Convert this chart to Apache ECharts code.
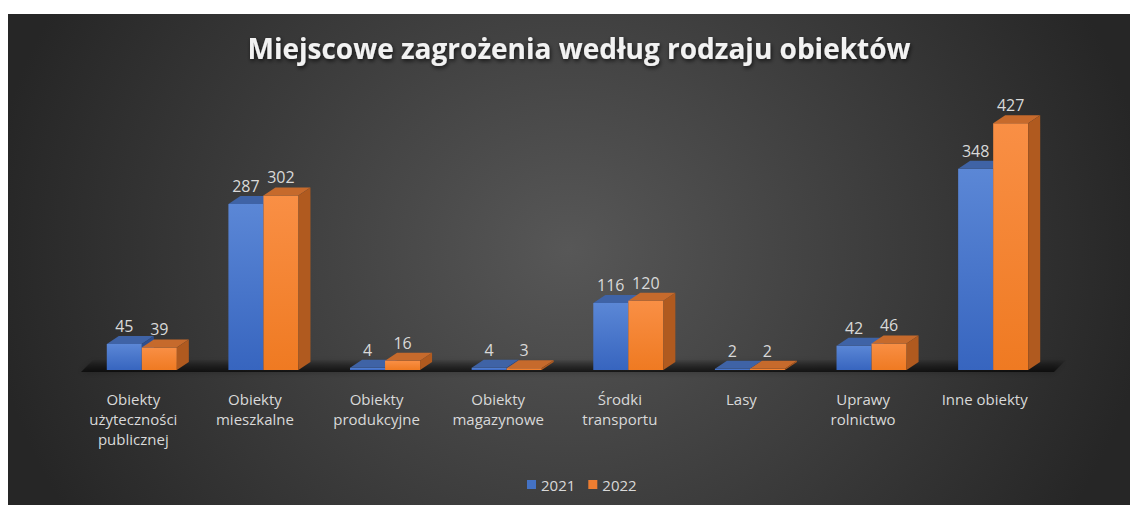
<!DOCTYPE html>
<html>
<head>
<meta charset="utf-8">
<script src="https://cdn.jsdelivr.net/npm/echarts@6/dist/echarts.min.js"></script>
<style>
  html, body { margin: 0; padding: 0; background: #ffffff; }
  #chart {
    position: absolute; left: 8px; top: 14px; width: 1122px; height: 491px;
    background: radial-gradient(ellipse 52% 105% at 50% 48%, #575757 0%, #3c3c3c 55%, #262626 100%);
  }
</style>
</head>
<body>
<div id="chart"></div>
<script>
const categories = [
  'Obiekty\nużyteczności\npublicznej',
  'Obiekty\nmieszkalne',
  'Obiekty\nprodukcyjne',
  'Obiekty\nmagazynowe',
  'Środki\ntransportu',
  'Lasy',
  'Uprawy\nrolnictwo',
  'Inne obiekty'
];
const seriesNames = ['2021', '2022'];
const values2021 = [45, 287, 4, 4, 116, 2, 42, 348];
const values2022 = [39, 302, 16, 3, 120, 2, 46, 427];

const FONT = '"Open Sans", sans-serif';
const DX = 12, DY = 8;

const palette = [
  { legend: '#4472c4', frontTop: '#5b87d6', frontBot: '#3765bf', top: '#3f63a6', side: '#2f4f8f' },
  { legend: '#ed7d31', frontTop: '#f98f45', frontBot: '#ef7a22', top: '#c66a2c', side: '#b05a1f' }
];

function makeRender(k) {
  const c = palette[k];
  return function (params, api) {
    const idx = api.value(0);
    const val = api.value(1);
    const top = api.coord([idx, val]);
    const base = api.coord([idx, 0]);
    const band = api.size([1, 0])[0];
    const w = band * 0.288;
    const x0 = top[0] + (k === 0 ? -w : 0);
    const x1 = x0 + w;
    const yT = top[1], yB = base[1];
    return {
      type: 'group',
      children: [
        { type: 'rect', shape: { x: x0, y: yT, width: w, height: yB - yT },
          style: { fill: new echarts.graphic.LinearGradient(0, 0, 0, 1, [
            { offset: 0, color: c.frontTop }, { offset: 1, color: c.frontBot }]) } },
        { type: 'polygon', shape: { points: [[x0, yT], [x1, yT], [x1 + DX, yT - DY], [x0 + DX, yT - DY]] },
          style: { fill: c.top } },
        { type: 'polygon', shape: { points: [[x1, yT], [x1 + DX, yT - DY], [x1 + DX, yB - DY], [x1, yB]] },
          style: { fill: c.side } },
        { type: 'text', z2: 50, style: { text: String(val), x: (x0 + x1) / 2, y: yT - DY - 2,
          align: 'center', verticalAlign: 'bottom', fill: '#d9d9d9', fontSize: 16, fontFamily: FONT } }
      ]
    };
  };
}

function renderFloor(params, api) {
  const cs = params.coordSys;
  const yB = cs.y + cs.height;
  const xL = cs.x, xR = cs.x + cs.width;
  return {
    type: 'group',
    children: [
      { type: 'polygon', shape: { points: [[xL, yB + 2], [xR, yB + 2], [xR + DX, yB - DY - 2], [xL + DX, yB - DY - 2]] },
        style: { fill: new echarts.graphic.LinearGradient(0, 0, 0, 1, [
          { offset: 0, color: 'rgba(0,0,0,0.05)' }, { offset: 0.6, color: 'rgba(0,0,0,0.4)' }, { offset: 1, color: 'rgba(0,0,0,0.65)' }]),
          shadowBlur: 6, shadowColor: 'rgba(0,0,0,0.5)' } }
    ]
  };
}

const chart = echarts.init(document.getElementById('chart'), null, { renderer: 'svg' });
chart.setOption({
  backgroundColor: 'transparent',
  animation: false,
  title: {
    text: 'Miejscowe zagrożenia według rodzaju obiektów',
    left: 566, textAlign: 'center', top: 15,
    textStyle: { color: '#f2f2f2', fontSize: 28, fontWeight: 'bold', fontFamily: FONT,
      textShadowColor: 'rgba(0,0,0,0.7)', textShadowBlur: 4, textShadowOffsetX: 1, textShadowOffsetY: 2 }
  },
  legend: {
    data: seriesNames,
    left: 514, top: 458,
    icon: 'rect', itemWidth: 9, itemHeight: 9, itemGap: 13, itemTextGap: 5,
    textStyle: { color: '#d9d9d9', fontSize: 15, fontFamily: FONT }
  },
  grid: { left: 73, right: 76, top: 67, bottom: 135 },
  xAxis: {
    type: 'category', data: categories,
    axisLine: { show: false }, axisTick: { show: false }, splitLine: { show: false },
    axisLabel: { interval: 0, color: '#d9d9d9', fontSize: 15, lineHeight: 20, margin: 19,
      padding: [0, 17, 0, 0], fontFamily: FONT }
  },
  yAxis: { type: 'value', min: 0, max: 500, show: false, splitLine: { show: false } },
  series: [
    { type: 'custom', name: 'floor', data: [[0, 0]], renderItem: renderFloor, silent: true, z: 1,
      encode: { x: 0, y: 1 } },
    { type: 'custom', name: seriesNames[0], data: values2021.map((v, i) => [i, v]),
      renderItem: makeRender(0), itemStyle: { color: palette[0].legend }, encode: { x: 0, y: 1 }, z: 2 },
    { type: 'custom', name: seriesNames[1], data: values2022.map((v, i) => [i, v]),
      renderItem: makeRender(1), itemStyle: { color: palette[1].legend }, encode: { x: 0, y: 1 }, z: 2 }
  ]
});
</script>
</body>
</html>
